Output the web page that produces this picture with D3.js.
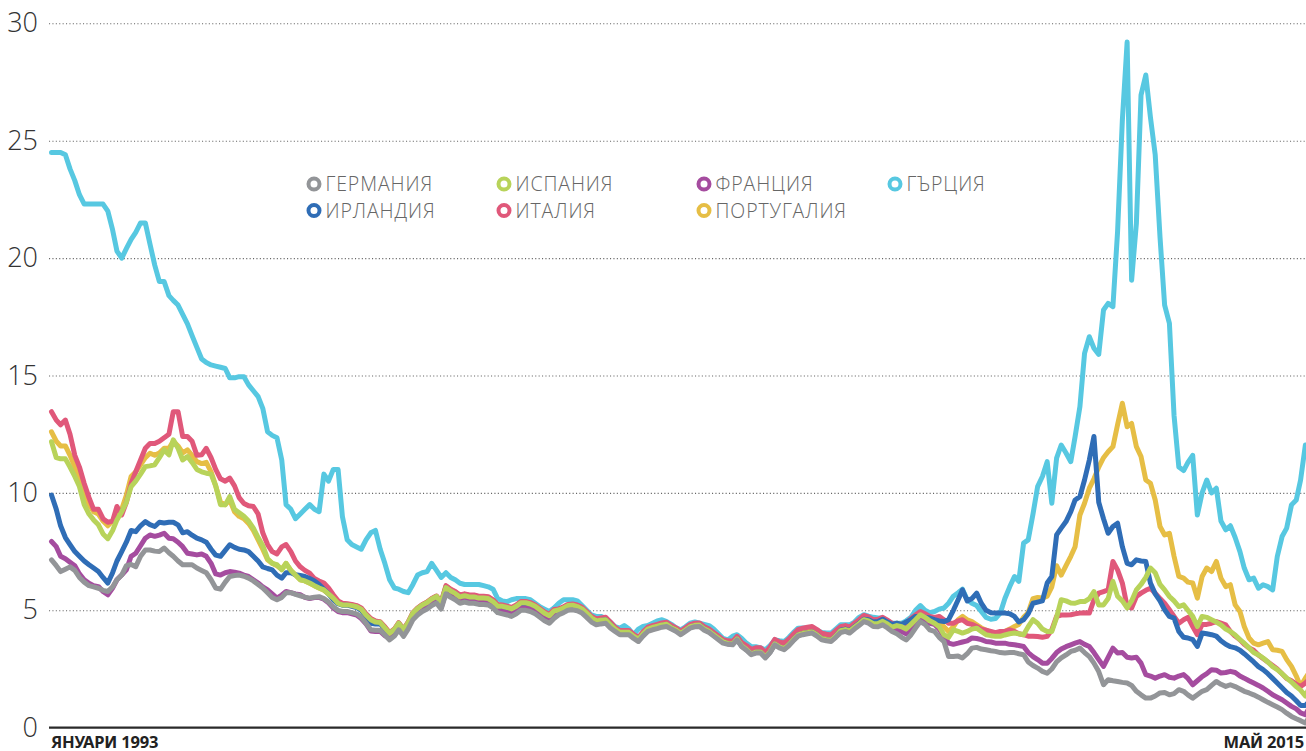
<!DOCTYPE html>
<html>
<head>
<meta charset="utf-8">
<script src="https://cdn.jsdelivr.net/npm/d3@7"></script>
<style>
  html, body { margin: 0; padding: 0; background: #fff; }
  svg { display: block; }
</style>
</head>
<body>
<svg class="chart" width="1306" height="751"></svg>
<script>
// monthly values, January 1993 - May 2015 (one row per year)
const firstMonth = new Date(1993, 0, 1)
const lastMonth = new Date(2015, 4, 1)
const months = d3.timeMonth.range(firstMonth, d3.timeMonth.offset(lastMonth, 1))

const germany = [
  7.15, 6.9, 6.65, 6.75, 6.85, 6.7, 6.4, 6.2, 6.05, 6.0, 5.94, 5.85,
  5.8, 6.0, 6.3, 6.5, 6.9, 6.95, 6.86, 7.3, 7.57, 7.57, 7.52, 7.5,
  7.65, 7.45, 7.3, 7.1, 6.94, 6.94, 6.94, 6.8, 6.7, 6.6, 6.3, 5.95,
  5.9, 6.2, 6.44, 6.48, 6.5, 6.45, 6.37, 6.25, 6.1, 5.95, 5.75, 5.55,
  5.45, 5.55, 5.75, 5.75, 5.68, 5.62, 5.56, 5.52, 5.56, 5.58, 5.5, 5.35,
  5.15, 5.0, 4.95, 4.95, 4.9, 4.85, 4.7, 4.45, 4.17, 4.15, 4.15, 3.95,
  3.74, 3.9, 4.17, 3.89, 4.2, 4.6, 4.8, 4.95, 5.05, 5.2, 5.31, 5.05,
  5.7, 5.55, 5.45, 5.3, 5.35, 5.3, 5.3, 5.25, 5.25, 5.23, 5.1, 4.9,
  4.85, 4.8, 4.74, 4.85, 5.0, 5.0, 4.95, 4.85, 4.7, 4.55, 4.45, 4.65,
  4.81, 4.9, 5.0, 5.02, 4.98, 4.88, 4.7, 4.5, 4.38, 4.42, 4.45, 4.25,
  4.1, 3.96, 3.96, 3.96, 3.8, 3.67, 3.9, 4.1, 4.17, 4.22, 4.28, 4.31,
  4.2, 4.1, 3.96, 4.1, 4.24, 4.3, 4.31, 4.15, 4.05, 3.9, 3.75, 3.6,
  3.55, 3.53, 3.74, 3.45, 3.3, 3.11, 3.18, 3.18, 2.97, 3.2, 3.53, 3.4,
  3.32, 3.5, 3.7, 3.9, 3.96, 4.0, 4.03, 3.9, 3.74, 3.7, 3.67, 3.85,
  4.05, 4.1, 4.03, 4.2, 4.35, 4.52, 4.45, 4.31, 4.3, 4.38, 4.25, 4.1,
  4.0, 3.85, 3.74, 3.95, 4.24, 4.52, 4.4, 4.17, 4.1, 3.85, 3.67, 3.03,
  3.03, 3.05, 2.97, 3.15, 3.39, 3.42, 3.35, 3.32, 3.28, 3.25, 3.2, 3.18,
  3.2, 3.2, 3.15, 3.11, 2.8, 2.65, 2.54, 2.4, 2.32, 2.5, 2.8, 2.97,
  3.1, 3.25, 3.3, 3.39, 3.2, 3.03, 2.75, 2.39, 1.83, 2.04, 2.0, 1.97,
  1.93, 1.9, 1.8, 1.55, 1.4, 1.26, 1.26, 1.35, 1.48, 1.5, 1.4, 1.45,
  1.62, 1.55, 1.4, 1.26, 1.4, 1.55, 1.62, 1.8, 1.97, 1.85, 1.76, 1.83,
  1.75, 1.65, 1.55, 1.48, 1.4, 1.3, 1.19, 1.08, 0.98, 0.88, 0.77, 0.62,
  0.48, 0.38, 0.3, 0.2, 0.5
]

const spain = [
  12.18, 11.5, 11.45, 11.45, 11.1, 10.7, 10.27, 9.5, 9.1, 8.85, 8.64, 8.25,
  8.05, 8.4, 8.85, 9.2, 9.6, 10.27, 10.5, 10.8, 11.12, 11.15, 11.2, 11.5,
  11.83, 11.62, 12.26, 11.9, 11.4, 11.55, 11.3, 11.0, 10.9, 10.84, 10.8, 10.3,
  9.5, 9.49, 9.84, 9.3, 9.15, 9.0, 8.8, 8.5, 8.1, 7.75, 7.2, 7.0,
  6.94, 6.72, 7.0, 6.7, 6.5, 6.3, 6.25, 6.16, 6.05, 5.95, 5.87, 5.7,
  5.52, 5.3, 5.23, 5.23, 5.2, 5.15, 5.05, 4.8, 4.6, 4.5, 4.48, 4.25,
  4.02, 4.18, 4.45, 4.17, 4.48, 4.88, 5.08, 5.23, 5.33, 5.48, 5.59, 5.33,
  5.97, 5.82, 5.72, 5.57, 5.62, 5.57, 5.57, 5.52, 5.52, 5.5, 5.37, 5.17,
  5.17, 5.12, 5.06, 5.17, 5.32, 5.32, 5.27, 5.17, 5.02, 4.87, 4.77, 4.97,
  5.01, 5.1, 5.2, 5.22, 5.16, 5.06, 4.88, 4.68, 4.55, 4.58, 4.6, 4.4,
  4.2, 4.06, 4.06, 4.06, 3.9, 3.77, 4.0, 4.2, 4.27, 4.32, 4.38, 4.41,
  4.26, 4.16, 4.02, 4.16, 4.3, 4.36, 4.37, 4.21, 4.11, 3.96, 3.81, 3.66,
  3.59, 3.57, 3.78, 3.49, 3.34, 3.15, 3.22, 3.22, 3.01, 3.24, 3.57, 3.44,
  3.37, 3.55, 3.75, 3.95, 4.01, 4.05, 4.08, 3.95, 3.79, 3.75, 3.72, 3.9,
  4.13, 4.18, 4.11, 4.28, 4.43, 4.6, 4.55, 4.43, 4.44, 4.53, 4.42, 4.28,
  4.35, 4.3, 4.2, 4.4, 4.6, 4.81, 4.7, 4.55, 4.45, 4.3, 3.96, 3.85,
  4.17, 4.1, 4.03, 4.1, 4.2, 4.24, 4.1, 3.96, 3.92, 3.89, 3.89, 3.95,
  4.0, 4.03, 4.0, 3.96, 4.3, 4.6, 4.45, 4.2, 4.1, 4.1, 4.7, 5.45,
  5.4, 5.31, 5.3, 5.37, 5.37, 5.5, 5.8, 5.23, 5.23, 5.5, 6.23, 5.6,
  5.4, 5.1, 5.4, 5.87, 6.1, 6.4, 6.8, 6.6, 6.1, 5.87, 5.59, 5.4,
  5.16, 5.23, 5.0, 4.74, 4.31, 4.74, 4.7, 4.6, 4.5, 4.38, 4.2, 4.1,
  3.95, 3.75, 3.6, 3.4, 3.2, 3.1, 2.97, 2.8, 2.6, 2.47, 2.3, 2.11,
  1.95, 1.75, 1.6, 1.35, 1.75
]

const france = [
  7.93, 7.71, 7.3, 7.2, 7.05, 6.9, 6.55, 6.3, 6.15, 6.05, 6.01, 5.8,
  5.66, 5.95, 6.3, 6.5, 6.72, 7.3, 7.43, 7.75, 8.07, 8.21, 8.15, 8.2,
  8.28, 8.07, 8.05, 7.9, 7.71, 7.43, 7.4, 7.36, 7.4, 7.3, 7.0, 6.55,
  6.5, 6.6, 6.65, 6.62, 6.58, 6.5, 6.44, 6.3, 6.16, 6.0, 5.87, 5.7,
  5.52, 5.65, 5.8, 5.75, 5.7, 5.66, 5.55, 5.5, 5.54, 5.55, 5.47, 5.32,
  5.1, 4.95, 4.9, 4.9, 4.85, 4.8, 4.65, 4.42, 4.12, 4.1, 4.1, 3.92,
  3.8, 3.96, 4.23, 3.95, 4.26, 4.66, 4.86, 5.01, 5.11, 5.26, 5.37, 5.11,
  5.78, 5.63, 5.53, 5.38, 5.43, 5.38, 5.38, 5.33, 5.33, 5.31, 5.18, 4.98,
  4.95, 4.9, 4.84, 4.95, 5.1, 5.1, 5.05, 4.95, 4.8, 4.65, 4.55, 4.75,
  4.87, 4.96, 5.06, 5.08, 5.04, 4.94, 4.76, 4.56, 4.44, 4.48, 4.51, 4.31,
  4.15, 4.01, 4.01, 4.01, 3.85, 3.72, 3.95, 4.15, 4.22, 4.27, 4.33, 4.36,
  4.24, 4.14, 4.0, 4.14, 4.28, 4.34, 4.35, 4.19, 4.09, 3.94, 3.79, 3.64,
  3.58, 3.56, 3.77, 3.48, 3.33, 3.14, 3.21, 3.21, 3.0, 3.23, 3.56, 3.43,
  3.36, 3.54, 3.74, 3.94, 4.0, 4.04, 4.07, 3.94, 3.78, 3.74, 3.71, 3.89,
  4.11, 4.16, 4.09, 4.26, 4.41, 4.58, 4.51, 4.37, 4.36, 4.44, 4.31, 4.16,
  4.2, 4.1, 4.0, 4.25, 4.45, 4.67, 4.55, 4.45, 4.4, 4.2, 3.89, 3.6,
  3.55, 3.6, 3.65, 3.7, 3.82, 3.8, 3.75, 3.67, 3.65, 3.6, 3.6, 3.6,
  3.55, 3.53, 3.5, 3.46, 3.2, 3.03, 2.9, 2.75, 2.75, 2.95, 3.2, 3.35,
  3.45, 3.53, 3.6, 3.67, 3.55, 3.46, 3.2, 2.9, 2.61, 3.0, 3.39, 3.18,
  3.2, 3.0, 2.97, 3.0, 2.75, 2.26, 2.2, 2.11, 2.2, 2.26, 2.15, 2.11,
  2.2, 2.26, 2.1, 1.83, 2.0, 2.18, 2.3, 2.47, 2.45, 2.33, 2.35, 2.4,
  2.35, 2.2, 2.11, 2.0, 1.9, 1.8, 1.69, 1.55, 1.4, 1.3, 1.19, 1.05,
  0.91, 0.8, 0.63, 0.55, 0.9
]

const greece = [
  24.5, 24.5, 24.5, 24.4, 23.8, 23.3, 22.7, 22.3, 22.3, 22.3, 22.3, 22.3,
  22.0, 21.2, 20.3, 20.0, 20.4, 20.8, 21.1, 21.5, 21.5, 20.6, 19.7, 19.0,
  19.0, 18.4, 18.2, 18.0, 17.6, 17.2, 16.7, 16.2, 15.7, 15.55, 15.45, 15.4,
  15.35, 15.3, 14.9, 14.9, 14.95, 14.95, 14.6, 14.35, 14.1, 13.6, 12.6, 12.45,
  12.35, 11.4, 9.5, 9.3, 8.9, 9.1, 9.3, 9.5, 9.3, 9.2, 10.8, 10.5,
  11.0, 11.0, 9.0, 8.0, 7.8, 7.7, 7.6, 8.0, 8.3, 8.4, 7.6, 7.0,
  6.3, 5.95, 5.9, 5.8, 5.75, 6.1, 6.5, 6.6, 6.65, 7.0, 6.7, 6.4,
  6.6, 6.4, 6.3, 6.15, 6.1, 6.1, 6.1, 6.1, 6.05, 6.0, 5.9, 5.5,
  5.4, 5.37, 5.45, 5.5, 5.5, 5.5, 5.45, 5.3, 5.15, 5.05, 4.95, 5.1,
  5.3, 5.45, 5.45, 5.45, 5.4, 5.2, 5.0, 4.8, 4.74, 4.74, 4.65, 4.5,
  4.3, 4.24, 4.35, 4.2, 3.96, 4.2, 4.31, 4.35, 4.45, 4.55, 4.6, 4.52,
  4.4, 4.25, 4.17, 4.3, 4.45, 4.5, 4.45, 4.4, 4.35, 4.2, 4.0, 3.8,
  3.74, 3.9, 3.96, 3.8, 3.6, 3.46, 3.45, 3.4, 3.32, 3.5, 3.74, 3.7,
  3.67, 3.85, 4.05, 4.24, 4.25, 4.25, 4.24, 4.15, 4.05, 4.03, 4.03, 4.2,
  4.38, 4.38, 4.38, 4.5, 4.7, 4.81, 4.75, 4.7, 4.67, 4.67, 4.55, 4.45,
  4.45, 4.45, 4.55, 4.7, 5.0, 5.2, 5.0, 4.9, 4.95, 5.05, 5.1, 5.3,
  5.6, 5.75, 5.9, 5.45, 5.3, 5.2, 4.95, 4.7, 4.62, 4.65, 4.88, 5.5,
  6.0, 6.44, 6.23, 7.86, 8.0, 9.1, 10.27, 10.7, 11.33, 9.56, 11.48, 12.04,
  11.7, 11.33, 12.4, 13.67, 15.94, 16.65, 16.16, 15.9, 17.79, 18.07, 17.93, 21.12,
  25.87, 29.2, 19.06, 21.48, 26.94, 27.8, 26.0, 24.4, 20.9, 18.0, 17.22, 13.3,
  11.1, 10.95, 11.3, 11.6, 9.06, 10.0, 10.55, 10.0, 10.2, 8.8, 8.43, 8.6,
  8.1, 7.5, 6.8, 6.3, 6.37, 5.94, 6.09, 6.01, 5.87, 7.29, 8.14, 8.5,
  9.49, 9.7, 10.55, 12.04, 11.5
]

const ireland = [
  9.91, 9.3, 8.6, 8.1, 7.8, 7.5, 7.3, 7.1, 6.94, 6.8, 6.65, 6.4,
  6.16, 6.6, 7.1, 7.5, 7.9, 8.4, 8.35, 8.6, 8.78, 8.65, 8.57, 8.75,
  8.72, 8.75, 8.75, 8.64, 8.3, 8.35, 8.2, 8.07, 8.0, 7.9, 7.6, 7.35,
  7.3, 7.55, 7.79, 7.68, 7.6, 7.57, 7.5, 7.3, 7.1, 6.85, 6.78, 6.72,
  6.5, 6.37, 6.6, 6.6, 6.51, 6.48, 6.44, 6.35, 6.25, 6.1, 5.9, 5.7,
  5.45, 5.28, 5.22, 5.22, 5.17, 5.12, 5.0, 4.73, 4.45, 4.42, 4.42, 4.2,
  3.96, 4.12, 4.39, 4.11, 4.42, 4.82, 5.02, 5.17, 5.27, 5.42, 5.53, 5.27,
  5.95, 5.8, 5.7, 5.55, 5.6, 5.55, 5.55, 5.5, 5.5, 5.48, 5.35, 5.15,
  5.1, 5.05, 4.99, 5.1, 5.25, 5.25, 5.2, 5.1, 4.95, 4.8, 4.7, 4.9,
  4.96, 5.05, 5.15, 5.17, 5.13, 5.03, 4.85, 4.65, 4.53, 4.57, 4.6, 4.4,
  4.18, 4.04, 4.04, 4.04, 3.88, 3.75, 3.98, 4.18, 4.25, 4.3, 4.36, 4.39,
  4.25, 4.15, 4.01, 4.15, 4.29, 4.35, 4.36, 4.2, 4.1, 3.95, 3.8, 3.65,
  3.58, 3.56, 3.77, 3.48, 3.33, 3.14, 3.21, 3.21, 3.0, 3.23, 3.56, 3.43,
  3.37, 3.55, 3.75, 3.95, 4.01, 4.05, 4.08, 3.95, 3.79, 3.75, 3.72, 3.9,
  4.15, 4.2, 4.13, 4.3, 4.45, 4.62, 4.6, 4.5, 4.52, 4.62, 4.5, 4.4,
  4.45, 4.4, 4.5, 4.6, 4.74, 4.74, 4.7, 4.67, 4.6, 4.55, 4.52, 4.6,
  5.0, 5.45, 5.87, 5.4, 5.5, 5.73, 5.3, 5.0, 4.9, 4.88, 4.88, 4.88,
  4.85, 4.74, 4.5, 4.6, 4.85, 5.3, 5.35, 5.4, 6.16, 6.44, 8.21, 8.5,
  8.78, 9.2, 9.7, 9.84, 10.55, 11.4, 12.4, 9.6, 8.9, 8.28, 8.57, 8.71,
  7.71, 7.0, 6.94, 7.15, 7.1, 7.08, 6.16, 5.7, 5.4, 5.02, 4.74, 4.67,
  4.1, 3.85, 3.82, 3.75, 3.46, 4.03, 4.0, 3.96, 3.9, 3.7, 3.55, 3.45,
  3.4, 3.3, 3.15, 2.97, 2.8, 2.6, 2.47, 2.3, 2.1, 1.9, 1.7, 1.5,
  1.35, 1.15, 0.95, 0.95, 1.15
]

const italy = [
  13.46, 13.1, 12.9, 13.1, 12.5, 11.6, 11.1, 10.4, 9.8, 9.3, 9.3, 8.9,
  8.75, 8.8, 9.42, 9.06, 9.6, 10.4, 10.9, 11.4, 11.9, 12.1, 12.1, 12.2,
  12.35, 12.5, 13.46, 13.46, 12.4, 12.4, 12.2, 11.6, 11.62, 11.9, 11.5, 11.0,
  10.6, 10.5, 10.63, 10.3, 9.8, 9.55, 9.45, 9.42, 9.1, 8.3, 7.8, 7.5,
  7.4, 7.7, 7.8, 7.5, 7.1, 6.85, 6.7, 6.58, 6.35, 6.25, 6.16, 5.95,
  5.66, 5.4, 5.3, 5.28, 5.25, 5.2, 5.1, 4.85, 4.65, 4.55, 4.5, 4.3,
  4.04, 4.2, 4.47, 4.19, 4.5, 4.9, 5.1, 5.25, 5.35, 5.5, 5.61, 5.35,
  6.05, 5.9, 5.8, 5.65, 5.7, 5.65, 5.65, 5.6, 5.6, 5.58, 5.45, 5.25,
  5.23, 5.18, 5.12, 5.23, 5.38, 5.38, 5.33, 5.23, 5.08, 4.93, 4.83, 5.03,
  5.06, 5.15, 5.25, 5.27, 5.23, 5.13, 4.95, 4.75, 4.63, 4.67, 4.7, 4.5,
  4.28, 4.14, 4.14, 4.14, 3.98, 3.85, 4.08, 4.28, 4.35, 4.4, 4.46, 4.49,
  4.35, 4.25, 4.11, 4.25, 4.39, 4.45, 4.46, 4.3, 4.2, 4.05, 3.9, 3.75,
  3.7, 3.68, 3.89, 3.62, 3.5, 3.33, 3.4, 3.4, 3.2, 3.43, 3.76, 3.65,
  3.6, 3.78, 3.98, 4.18, 4.24, 4.28, 4.31, 4.18, 4.02, 3.98, 3.95, 4.13,
  4.3, 4.35, 4.28, 4.45, 4.6, 4.78, 4.72, 4.6, 4.62, 4.7, 4.58, 4.45,
  4.4, 4.35, 4.45, 4.65, 4.8, 4.95, 4.85, 4.74, 4.7, 4.74, 4.6, 4.45,
  4.45, 4.55, 4.6, 4.45, 4.4, 4.31, 4.2, 4.15, 4.1, 4.05, 4.1, 4.1,
  4.17, 4.1, 4.0, 3.96, 3.9, 3.89, 3.88, 3.85, 3.89, 4.17, 4.74, 4.8,
  4.8, 4.81, 4.85, 4.88, 4.9, 4.88, 5.45, 5.73, 5.8, 5.87, 7.08, 6.72,
  6.16, 5.16, 5.1, 5.59, 5.73, 5.85, 5.94, 5.73, 5.5, 5.3, 5.02, 4.74,
  4.45, 4.6, 4.7, 4.31, 3.96, 4.4, 4.4, 4.45, 4.52, 4.45, 4.38, 4.1,
  3.9, 3.74, 3.55, 3.4, 3.3, 3.1, 2.95, 2.8, 2.65, 2.5, 2.3, 2.1,
  2.0, 1.85, 1.76, 1.9, 2.1
]

const portugal = [
  12.6, 12.2, 12.0, 12.0, 11.6, 11.1, 10.6, 10.0, 9.5, 9.2, 9.1, 8.8,
  8.6, 8.8, 9.2, 9.3, 9.9, 10.7, 10.9, 11.2, 11.5, 11.69, 11.6, 11.7,
  11.9, 11.9, 12.2, 12.0, 11.7, 11.83, 11.6, 11.33, 11.25, 11.3, 10.9, 10.3,
  9.6, 9.5, 9.7, 9.2, 9.0, 8.9, 8.7, 8.4, 8.0, 7.6, 7.15, 7.0,
  6.9, 6.75, 7.0, 6.7, 6.5, 6.3, 6.25, 6.15, 6.05, 5.95, 5.85, 5.7,
  5.6, 5.35, 5.27, 5.26, 5.23, 5.18, 5.08, 4.83, 4.63, 4.53, 4.5, 4.28,
  4.03, 4.19, 4.46, 4.18, 4.49, 4.89, 5.09, 5.24, 5.34, 5.49, 5.6, 5.34,
  6.03, 5.88, 5.78, 5.63, 5.68, 5.63, 5.63, 5.58, 5.58, 5.56, 5.43, 5.23,
  5.2, 5.15, 5.09, 5.2, 5.35, 5.35, 5.3, 5.2, 5.05, 4.9, 4.8, 5.0,
  5.01, 5.1, 5.2, 5.22, 5.18, 5.08, 4.9, 4.7, 4.58, 4.62, 4.65, 4.45,
  4.22, 4.08, 4.08, 4.08, 3.92, 3.79, 4.02, 4.22, 4.29, 4.34, 4.4, 4.43,
  4.3, 4.2, 4.06, 4.2, 4.34, 4.4, 4.41, 4.25, 4.15, 4.0, 3.85, 3.7,
  3.65, 3.63, 3.84, 3.55, 3.4, 3.21, 3.28, 3.28, 3.07, 3.3, 3.63, 3.5,
  3.44, 3.62, 3.82, 4.02, 4.08, 4.12, 4.15, 4.02, 3.86, 3.82, 3.79, 3.97,
  4.2, 4.25, 4.18, 4.36, 4.51, 4.69, 4.63, 4.5, 4.51, 4.6, 4.48, 4.34,
  4.45, 4.4, 4.35, 4.5, 4.7, 4.9, 4.8, 4.65, 4.6, 4.5, 4.3, 4.1,
  4.3, 4.6, 4.74, 4.6, 4.52, 4.38, 4.25, 4.15, 4.05, 4.0, 4.0, 4.1,
  4.2, 4.31, 4.4, 4.7, 4.9, 5.5, 5.55, 5.52, 5.6, 6.0, 6.9, 6.5,
  6.9, 7.3, 7.71, 9.06, 9.56, 10.2, 10.6, 11.1, 11.5, 11.75, 11.97, 12.9,
  13.82, 12.82, 12.96, 11.97, 11.55, 10.55, 10.41, 9.7, 8.57, 8.21, 8.28, 7.3,
  6.44, 6.37, 6.2, 6.16, 5.52, 6.44, 6.8, 6.65, 7.08, 6.37, 6.01, 6.09,
  5.23, 4.95, 4.31, 3.82, 3.6, 3.53, 3.6, 3.67, 3.32, 3.3, 3.25, 2.9,
  2.61, 2.2, 1.76, 2.11, 2.4
]

const countries = ["ГЕРМАНИЯ", "ИСПАНИЯ", "ФРАНЦИЯ", "ГЪРЦИЯ", "ИРЛАНДИЯ", "ИТАЛИЯ", "ПОРТУГАЛИЯ"]
const seriesValues = [germany, spain, france, greece, ireland, italy, portugal]
const colors = ["#939598", "#b8d35a", "#a54c9f", "#57c8e1", "#2f6db6", "#e0587a", "#e6be45"]
const drawOrder = [3, 6, 5, 4, 2, 1, 0] // greece at the back, germany on top

const yTicks = [0, 5, 10, 15, 20, 25, 30]
const xLabels = ["ЯНУАРИ 1993", "МАЙ 2015"]

const width = 1306
const left = 49

const svg = d3.select(".chart")

const x = d3.scaleTime()
    .domain([firstMonth, lastMonth])
    .range([51.5, 1310])

const y = d3.scaleLinear()
    .domain([0, 30])
    .range([727.7, 23.3])

// gridlines + y labels
const yAxis = d3.axisLeft(y)
    .tickValues(yTicks)
    .tickSize(-(width - left))
    .tickPadding(11)
    .tickFormat(d3.format("d"))

const gy = svg.append("g")
    .attr("transform", `translate(${left},0)`)
    .call(yAxis)

gy.select(".domain").remove()
gy.selectAll(".tick line")
    .attr("stroke", "#666")
    .attr("stroke-width", 1.1)
    .attr("stroke-dasharray", "1.1,2.3")
gy.selectAll(".tick").filter(d => d === 0).select("line").remove()
gy.selectAll(".tick text")
    .attr("font-family", "'Open Sans', 'Noto Sans', sans-serif")
    .attr("font-weight", 300)
    .attr("font-size", 27)
    .attr("fill", "#333")

// zero line
svg.append("line")
    .attr("x1", left)
    .attr("x2", width)
    .attr("y1", y(0))
    .attr("y2", y(0))
    .attr("stroke", "#2a2a2a")
    .attr("stroke-width", 2.2)

// x end labels (the last one is kept inside the picture)
svg.append("g")
    .selectAll("text")
    .data([firstMonth, lastMonth])
    .enter().append("text")
    .attr("x", (d, i) => i === 0 ? x(d) - 0.5 : Math.min(x(d) + 3, width - 2))
    .attr("y", 747.5)
    .attr("text-anchor", (d, i) => i === 0 ? "start" : "end")
    .attr("font-family", "'Noto Sans', 'Open Sans', sans-serif")
    .attr("font-weight", 700)
    .attr("font-size", 16.5)
    .attr("letter-spacing", -0.2)
    .attr("fill", "#222")
    .text((d, i) => xLabels[i])

// lines
const line = d3.line()
    .x((d, i) => x(months[i]))
    .y(d => y(d))

svg.append("g")
    .attr("fill", "none")
    .attr("stroke-width", 5)
    .attr("stroke-linejoin", "round")
    .attr("stroke-linecap", "round")
    .selectAll("path")
    .data(drawOrder)
    .enter().append("path")
    .attr("stroke", k => colors[k])
    .attr("d", k => line(seriesValues[k]))

// legend, 4 columns x 2 rows
const legendCols = [314, 504, 704, 895]
const legendRows = [184, 210.5]

const legend = svg.append("g")
    .selectAll("g")
    .data(countries)
    .enter().append("g")
    .attr("transform", (d, i) => `translate(${legendCols[i % 4]},${legendRows[Math.floor(i / 4)]})`)

legend.append("circle")
    .attr("r", 5.5)
    .attr("fill", "#fff")
    .attr("stroke", (d, i) => colors[i])
    .attr("stroke-width", 4)

legend.append("text")
    .attr("x", 11.5)
    .attr("dy", "0.36em")
    .attr("font-family", "'Open Sans', 'Noto Sans', sans-serif")
    .attr("font-weight", 300)
    .attr("font-size", 19.5)
    .attr("letter-spacing", 0.9)
    .attr("fill", "#666")
    .text(d => d)
</script>
</body>
</html>
